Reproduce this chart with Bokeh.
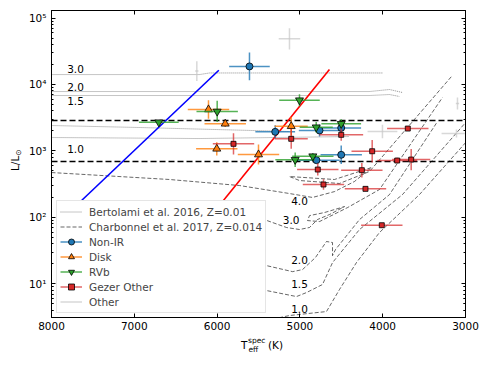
import numpy as np
from bokeh.plotting import figure
from bokeh.layouts import column
from bokeh.models import (LinearAxis, LogAxis, FixedTicker, Range1d, Legend, LegendItem,
                          Span, CustomJSTickFormatter, Div)
from bokeh.core.properties import value
from bokeh.embed import file_html
from bokeh.resources import INLINE

FONT = "DejaVu Sans"

# ---------------- data ----------------
x_ticks = [3000, 4000, 5000, 6000, 7000, 8000]
y_decades = [10, 100, 1000, 10000, 100000]

# Bertolami et al. 2016 post-AGB tracks (Teff, L)
b30_T = [8000, 6213, 6092, 4003]
b30_L = [14100, 14100, 14900, 14900]
b20_T = [8000, 4160, 3918, 3761]
b20_L = [7830, 7830, 8400, 7570]
b15_T = [8000, 4160, 3918, 3797]
b15_L = [6820, 6820, 7060, 6590]
b10a_T = [8000, 6937, 5126]
b10a_L = [2410, 2250, 1960]
b10b_T = [8000, 6213, 4401]
b10b_L = [1590, 1535, 1645]
bert_lab_T = [7710, 7710, 7710, 7710]
bert_lab_L = [17400, 9230, 5600, 1050]
bert_lab = ["3.0", "2.0", "1.5", "1.0"]

# Charbonnel et al. 2017 tracks
c40_T = [8000, 6575, 5730, 5126, 4848, 4582, 4341, 4135, 4582, 5126, 5005, 4522, 4160, 3169]
c40_L = [472, 371, 301, 228, 199, 244, 346, 562, 371, 411, 358, 323, 489, 13200]
c30_T = [5464, 5162, 5005, 4884, 4788, 4643, 4461, 4703, 4884, 4908, 4763, 4425, 4039, 3278]
c30_L = [95.7, 70.2, 65.5, 70.2, 92.5, 110, 145, 118, 106, 89.3, 86.3, 140, 262, 6370]
c20_T = [5464, 5089, 4969, 4812, 4679, 4606, 4606, 4570, 4280, 3918, 3338]
c20_L = [19.5, 15.2, 16.3, 24.8, 43.2, 41.7, 26.5, 32.7, 92.5, 220, 2770]
c15_T = [5464, 5041, 4920, 4727, 4606, 4280, 3761, 2988]
c15_L = [8.17, 6.41, 7.36, 9.73, 20.8, 65.5, 220, 2770]
c10_T = [5464, 5126, 4679, 4522, 4317, 4039, 3556, 2988]
c10_L = [2.69, 3.32, 3.81, 8.17, 20.8, 59.0, 220, 1380]
char_lab_T = [5005, 5105, 5005, 5005, 5005]
char_lab_L = [175, 90.4, 23.1, 9.95, 4.18]
char_lab = ["4.0", "3.0", "2.0", "1.5", "1.0"]

# reference lines
blue_T = [7662, 5979]
blue_L = [167, 16400]
red_T = [5931, 4643]
red_L = [175, 16800]
hlines_L = [2870, 692]

# stars: Teff, L, Teff error (K), log L error (dex)
nonir_T = [5609, 5298, 4763, 4501, 4501, 4800]
nonir_L = [18700, 1936, 2030, 2220, 873, 725]
nonir_Terr = [245, 240, 250, 240, 250, 280]
nonir_dex = [0.21, 0.10, 0.09, 0.06, 0.14, 0.05]

disk_T = [6104, 5902, 6004, 5500, 5105]
disk_L = [4200, 2560, 1075, 881, 2350]
disk_Terr = [250, 250, 250, 250, 200]
disk_dex = [0.14, 0.05, 0.10, 0.15, 0.14]

rvb_T = [6704, 5999, 5005, 4803, 4501, 5057, 4844]
rvb_L = [2700, 3920, 5800, 2270, 2560, 735, 832]
rvb_Terr = [240, 250, 245, 200, 240, 240, 250]
rvb_dex = [0.03, 0.16, 0.09, 0.08, 0.07, 0.11, 0.05]

gez_T = [5802, 5105, 4501, 4784, 4715, 4252, 4208, 4127, 3697, 3825, 3656, 4011]
gez_L = [1277, 1520, 1745, 524, 312, 512, 268, 988, 2170, 716, 741, 76]
gez_Terr = [250, 200, 265, 250, 250, 250, 250, 250, 250, 240, 230, 250]
gez_dex = [0.16, 0.15, 0.09, 0.09, 0.08, 0.11, 0.03, 0.17, 0.03, 0.04, 0.16, 0.03]

other_T = [5126, 6245, 3097, 4003, 3109]
other_L = [48700, 15900, 5160, 1960, 1830]
other_Terr = [130, 20, 20, 180, 180]
other_dex = [0.16, 0.15, 0.09, 0.10, 0.06]

# ---------------- figure ----------------
p = figure(frame_width=414, frame_height=307, x_range=Range1d(8000, 3000),
           y_range=Range1d(3.1, 1.3e5), y_axis_type="log",
           output_backend="svg", toolbar_location=None,
           min_border_left=51, min_border_right=17, min_border_top=10, min_border_bottom=18,
           background_fill_color="white", border_fill_color="white")
p.xgrid.visible = False
p.ygrid.visible = False
p.outline_line_color = "black"

y_minor = [m * d / 10 for d in [10] + y_decades for m in range(2, 10)]
xt = FixedTicker(ticks=x_ticks, minor_ticks=[])
yt = FixedTicker(ticks=y_decades, minor_ticks=y_minor)
sup_fmt = CustomJSTickFormatter(code="""
const s = {'0':'\u2070','1':'\u00b9','2':'\u00b2','3':'\u00b3','4':'\u2074','5':'\u2075','6':'\u2076','-':'\u207b'};
const e = Math.round(Math.log10(tick));
return '10' + String(e).split('').map(c => s[c]).join('');
""")

def style_axis(ax, labels=True):
    ax.axis_line_color = "black"
    ax.major_tick_line_color = "black"
    ax.minor_tick_line_color = "black"
    ax.major_tick_in = 4
    ax.major_tick_out = 0
    ax.minor_tick_in = 2
    ax.minor_tick_out = 0
    ax.major_label_text_font = FONT
    ax.major_label_text_font_size = "10.5px"
    ax.major_label_text_color = "black"
    if not labels:
        ax.major_label_text_font_size = "1px"
        ax.major_label_text_alpha = 0
        ax.major_label_standoff = 0

p.xaxis[0].ticker = xt
p.xaxis[0].major_label_standoff = 4
style_axis(p.xaxis[0])
p.yaxis[0].ticker = yt
p.yaxis[0].formatter = sup_fmt
style_axis(p.yaxis[0])
top = LinearAxis(ticker=xt)
style_axis(top, labels=False)
p.add_layout(top, "above")
right = LogAxis(ticker=yt)
style_axis(right, labels=False)
p.add_layout(right, "right")

# horizontal dashed lines
for yl in hlines_L:
    p.add_layout(Span(location=yl, dimension="width", line_color="black",
                      line_width=1.5, line_dash="6 3", level="underlay"))

# Bertolami tracks
bert_rs = []
for T, L in [(b30_T, b30_L), (b20_T, b20_L), (b15_T, b15_L), (b10a_T, b10a_L), (b10b_T, b10b_L)]:
    bert_rs.append(p.line(T, L, line_color="#8c8c8c", line_width=1, line_dash="1 1"))
p.text(bert_lab_T, bert_lab_L, text=bert_lab, text_align="center", text_baseline="middle",
       text_font=value(FONT), text_font_size="10.5px", text_color="black")

# Charbonnel tracks
char_rs = []
for T, L in [(c40_T, c40_L), (c30_T, c30_L), (c20_T, c20_L), (c15_T, c15_L), (c10_T, c10_L)]:
    char_rs.append(p.line(T, L, line_color="black", line_width=0.6, line_dash="4 2"))
p.text(char_lab_T, char_lab_L, text=char_lab, text_align="center", text_baseline="middle",
       text_font=value(FONT), text_font_size="10.5px", text_color="black")

# blue / red lines
p.line(blue_T, blue_L, line_color="blue", line_width=1.6)
p.line(red_T, red_L, line_color="red", line_width=1.6)

def series(T, L, Terr, dex, color, marker, size, bar_alpha=0.8, with_marker=True):
    T = np.array(T, float); L = np.array(L, float)
    Te = np.array(Terr, float); d = np.array(dex, float)
    h = p.segment(x0=T - Te, y0=L, x1=T + Te, y1=L, line_color=color,
                  line_width=1.5, line_alpha=bar_alpha)
    p.segment(x0=T, y0=L * 10 ** (-d), x1=T, y1=L * 10 ** d, line_color=color,
              line_width=1.5, line_alpha=bar_alpha)
    cross = p.scatter(x=[], y=[], marker="cross", size=10, line_color=color,
                      line_width=1.5, line_alpha=bar_alpha)
    rs = [h, cross]
    if with_marker:
        m = p.scatter(T, L, marker=marker, size=size, fill_color=color,
                      line_color="black", line_width=0.8)
        rs.append(m)
    return rs

r_nonir = series(nonir_T, nonir_L, nonir_Terr, nonir_dex, "#1f77b4", "circle", 7)
r_disk = series(disk_T, disk_L, disk_Terr, disk_dex, "#ff7f0e", "triangle", 8)
r_rvb = series(rvb_T, rvb_L, rvb_Terr, rvb_dex, "#2ca02c", "inverted_triangle", 8)
r_gez = series(gez_T, gez_L, gez_Terr, gez_dex, "#d62728", "square", 5, bar_alpha=0.7)
r_other = series(other_T, other_L, other_Terr, other_dex, "#c8c8c8", None, 0,
                 bar_alpha=0.7, with_marker=False)

legend = Legend(items=[
    LegendItem(label="Bertolami et al. 2016, Z=0.01", renderers=[bert_rs[0]]),
    LegendItem(label="Charbonnel et al. 2017, Z=0.014", renderers=[char_rs[0]]),
    LegendItem(label="Non-IR", renderers=r_nonir),
    LegendItem(label="Disk", renderers=r_disk),
    LegendItem(label="RVb", renderers=r_rvb),
    LegendItem(label="Gezer Other", renderers=r_gez),
    LegendItem(label="Other", renderers=r_other),
], location=(5, 4), label_text_font=FONT, label_text_font_size="10.5px",
    glyph_width=22, glyph_height=15, label_height=15, label_standoff=7,
    spacing=0, padding=3, margin=0, border_line_color="#cccccc",
    background_fill_color="white", background_fill_alpha=1.0)
p.add_layout(legend)

# axis titles as HTML text (sub/superscripts), in a strip under the figure
titles_html = (
    '<div style="position:relative;width:482px;height:24px;font-family:\'DejaVu Sans\';'
    'color:black;overflow:visible;">'
    '<span style="position:absolute;left:236px;top:-1px;font-size:10.5px;line-height:12px;'
    'white-space:nowrap;">T</span>'
    '<span style="position:absolute;left:243px;top:-4px;font-size:7.5px;line-height:9px;'
    'white-space:nowrap;">spec</span>'
    '<span style="position:absolute;left:243.5px;top:5px;font-size:7.5px;line-height:9px;'
    'white-space:nowrap;">eff</span>'
    '<span style="position:absolute;left:263px;top:-1px;font-size:10.5px;line-height:12px;'
    'white-space:nowrap;">(K)</span>'
    '<span style="position:absolute;left:4px;top:-169px;font-size:10.5px;line-height:12px;'
    'white-space:nowrap;transform:rotate(-90deg);transform-origin:left top;">'
    'L/L<span style="font-size:7.5px;position:relative;top:2px;">\u2299</span></span>'
    '</div>'
)
titles = Div(text=titles_html, width=482, height=24, styles={"overflow": "visible"})

layout = column(p, titles, spacing=0)
open("out.html", "w").write(file_html(layout, INLINE))
